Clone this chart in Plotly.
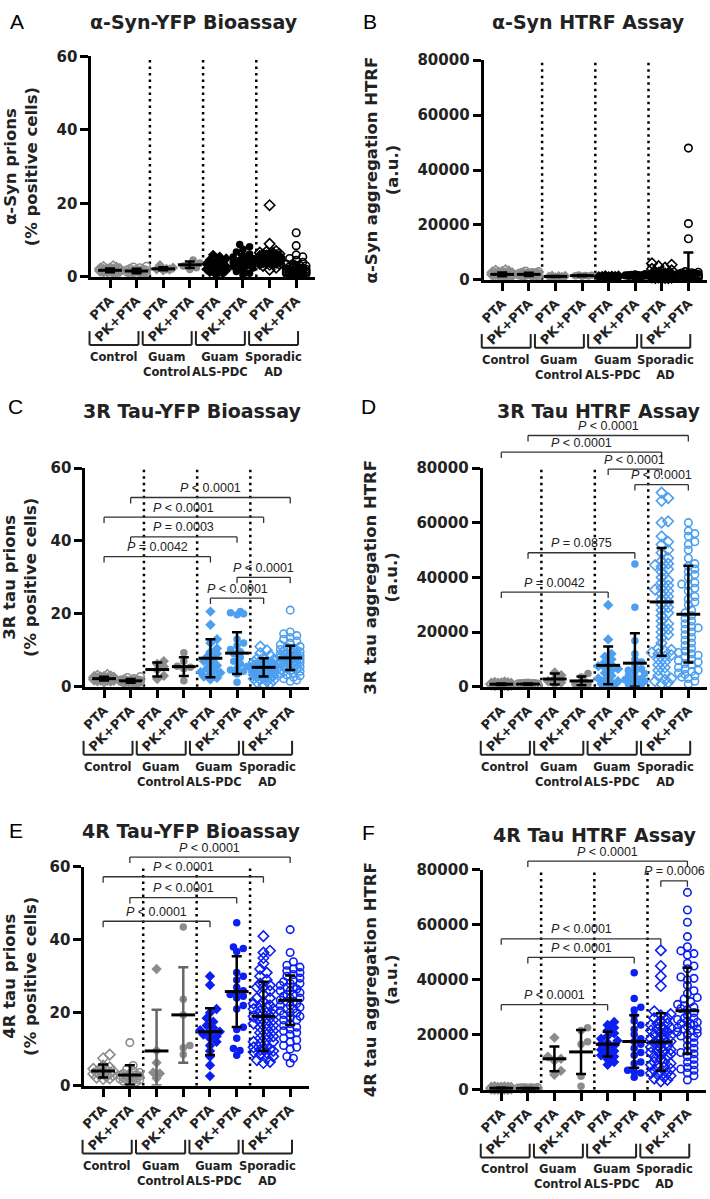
import numpy as np
import plotly.graph_objects as go

# ======================= DATA =======================
CATEGORY_LABELS = ["PTA", "PK+PTA"] * 4
GROUP_LABELS = ["Control", "Guam<br>Control", "Guam<br>ALS-PDC", "Sporadic<br>AD"]

# ---- Panel A: alpha-Syn-YFP bioassay (% positive cells)
A_control_pta = [1.2, 1.4, 1.5, 1.6, 1.7, 1.8, 1.8, 1.9, 2.0, 2.0, 2.1, 2.2, 2.3, 2.5, 2.7, 2.9, 1.0, 1.6]
A_control_pk = [0.8, 1.0, 1.1, 1.2, 1.3, 1.4, 1.5, 1.5, 1.6, 1.7, 1.8, 1.9, 2.0, 2.1, 2.3, 2.5, 2.7, 2.9, 1.2, 1.0]
A_guamctrl_pta = [1.8, 2.0, 2.1, 2.2, 2.5, 3.2]
A_guamctrl_pk = [2.0, 2.5, 3.0, 3.4, 3.8, 4.6]
A_als_pta = [0.5, 1.0, 1.3, 1.5, 1.8, 2.0, 2.1, 2.3, 2.5, 2.6, 2.8, 3.0, 3.2, 3.5, 3.8, 4.2, 4.6, 5.0, 5.5, 6.0]
A_als_pk = [0.5, 1.0, 1.5, 2.0, 2.4, 2.8, 3.0, 3.2, 3.5, 3.7, 4.0, 4.2, 4.5, 4.8, 5.0, 5.4, 5.8, 6.2, 6.8, 7.5, 8.2, 8.8]
A_sad_pta = [19.5, 9.0, 7.0, 6.8, 6.5, 6.3, 6.1, 6.0, 5.9, 5.8, 5.7, 5.6, 5.5, 5.4, 5.3, 5.2, 5.1, 5.0, 5.0, 4.9,
             4.8, 4.8, 4.7, 4.6, 4.5, 4.5, 4.4, 4.3, 4.2, 4.1, 4.0, 3.9, 3.8, 3.7, 3.5, 3.3, 3.0, 2.5, 2.0, 5.5,
             5.2, 4.6, 4.2, 6.6, 3.6, 5.3]
A_sad_pk = [12.0, 8.5, 6.0, 5.5, 5.0, 4.5, 4.0, 3.6, 3.2, 3.0, 2.8, 2.6, 2.4, 2.2, 2.0, 2.0, 1.9, 1.8, 1.7, 1.6,
            1.5, 1.5, 1.4, 1.3, 1.2, 1.2, 1.1, 1.0, 1.0, 0.9, 0.8, 0.8, 0.7, 0.6, 0.5, 1.8, 2.2, 1.4, 1.6, 2.5,
            3.5, 0.9, 1.3, 2.1, 1.1]
A_mean = [1.8, 1.6, 2.2, 3.3, 2.5, 3.8, 5.0, 2.0]
A_sd = [0.5, 0.6, 0.4, 0.9, 1.4, 2.1, 2.0, 2.0]

# ---- Panel B: alpha-Syn HTRF (a.u.)
B_control_pta = [800, 1200, 1500, 1700, 1900, 2000, 2100, 2200, 2400, 2600, 2800, 3000, 3300, 3500, 1600, 2300, 1000, 2700]
B_control_pk = [1000, 1300, 1500, 1700, 1800, 2000, 2100, 2200, 2300, 2500, 2600, 2800, 3000, 3200, 1900, 2400, 1600, 2700, 2100, 1400]
B_guamctrl_pta = [900, 1100, 1200, 1300, 1400, 1500]
B_guamctrl_pk = [1300, 1400, 1500, 1600, 1700, 1800]
B_als_pta = [800, 900, 1000, 1100, 1150, 1200, 1250, 1300, 1350, 1400, 1450, 1500, 1600, 1700, 1000, 1200, 1300, 1100, 950, 1250]
B_als_pk = [1000, 1200, 1300, 1400, 1500, 1600, 1700, 1800, 1900, 2000, 2100, 1500, 1700, 1400, 1600, 1800, 1300, 1900, 1550, 1650, 2200]
B_sad_pta = [6000, 5500, 5000, 4500, 4000, 3500, 3000, 2800, 2500, 2300, 2100, 2000, 1900, 1800, 1700, 1600, 1500, 1400,
             1300, 1200, 1100, 1000, 900, 800, 700, 600, 500, 1500, 1800, 2200, 1300, 1000, 1600, 1200, 2600, 900, 1100,
             1400, 700, 1900]
B_sad_pk = [48000, 20500, 15000, 3000, 2800, 2600, 2400, 2200, 2000, 1900, 1800, 1700, 1600, 1500, 1400, 1300, 1200,
            1100, 1000, 900, 800, 700, 600, 500, 400, 1500, 1800, 2100, 1300, 1000, 1600, 1200, 900, 1100, 1400, 700,
            1900, 2500, 800, 600]
B_mean = [2000, 2000, 1250, 1550, 1200, 1650, 1800, 3000]
B_sd = [700, 600, 200, 200, 250, 300, 1100, 7000]

# ---- Panel C: 3R tau-YFP bioassay (% positive cells)
C_control_pta = [1.5, 1.7, 1.8, 1.9, 2.0, 2.1, 2.2, 2.3, 2.4, 2.5, 2.6, 2.8, 3.0, 3.2, 2.0, 2.2, 1.9, 2.6]
C_control_pk = [0.9, 1.0, 1.1, 1.2, 1.3, 1.4, 1.5, 1.6, 1.7, 1.8, 1.9, 2.0, 2.2, 2.5, 2.8, 1.4, 1.6, 1.3, 1.7, 1.5]
C_guamctrl_pta = [7.0, 6.2, 5.5, 4.6, 3.0, 2.1]
C_guamctrl_pk = [9.3, 7.0, 5.6, 5.3, 4.9, 1.6]
C_als_pta = [20.6, 17.0, 13.0, 12.0, 10.5, 9.5, 9.0, 8.2, 7.6, 7.0, 6.3, 5.8, 5.0, 4.4, 3.8, 3.3, 2.8, 2.4, 2.0, 4.0]
C_als_pk = [20.6, 20.3, 20.0, 19.7, 13.0, 12.0, 11.2, 10.2, 9.6, 9.0, 8.0, 7.0, 6.2, 5.5, 5.0, 4.6, 4.2, 3.5, 1.2]
C_sad_pta = [11.0, 10.0, 9.2, 8.6, 8.0, 7.6, 7.3, 7.0, 6.8, 6.6, 6.4, 6.2, 6.0, 5.9, 5.8, 5.7, 5.6, 5.5, 5.4, 5.3,
             5.2, 5.1, 5.0, 4.9, 4.8, 4.7, 4.6, 4.5, 4.4, 4.3, 4.2, 4.1, 4.0, 3.9, 3.8, 3.7, 3.6, 3.5, 3.4, 3.3,
             3.2, 3.0, 2.8, 2.6, 2.4, 2.2, 2.0, 1.8, 1.5, 1.2, 0.9, 0.6, 5.0, 5.5, 4.5, 6.0, 4.0, 3.0, 7.0, 5.2]
C_sad_pk = [21.0, 15.0, 14.5, 14.0, 13.5, 13.0, 12.5, 12.0, 11.5, 11.0, 10.8, 10.5, 10.2, 10.0, 9.8, 9.6, 9.4, 9.2,
            9.0, 8.8, 8.6, 8.4, 8.2, 8.0, 7.8, 7.6, 7.4, 7.2, 7.0, 6.8, 6.6, 6.4, 6.2, 6.0, 5.8, 5.6, 5.4, 5.2, 5.0,
            4.8, 4.6, 4.4, 4.2, 4.0, 3.8, 3.5, 3.2, 3.0, 2.6, 2.2, 1.8, 1.5, 8.0, 7.5, 8.5, 9.0, 7.0, 6.5, 10.0, 7.8]
C_mean = [2.2, 1.6, 4.7, 5.5, 7.8, 9.2, 5.3, 7.9]
C_sd = [0.5, 0.5, 1.9, 2.6, 5.2, 5.7, 2.5, 3.3]
C_comp_pairs = [(1, 7), (0, 6), (1, 5), (0, 4), (5, 7), (4, 6)]
C_comp_heights = [51.9, 46.5, 41.1, 35.7, 30.0, 24.3]
C_comp_labels = ["< 0.0001", "< 0.0001", "= 0.0003", "= 0.0042", "< 0.0001", "< 0.0001"]

# ---- Panel D: 3R tau HTRF (a.u.)
D_control_pta = [400, 500, 600, 700, 800, 850, 900, 950, 1000, 1050, 1100, 1200, 1300, 1500, 900, 800, 1000, 700]
D_control_pk = [500, 600, 700, 750, 800, 850, 900, 950, 1000, 1050, 1100, 1150, 1200, 1300, 900, 800, 1000, 950, 850, 1100]
D_guamctrl_pta = [5200, 4200, 3000, 2000, 1500, 1000]
D_guamctrl_pk = [4800, 3500, 1800, 1200, 900, 600]
D_als_pta = [29900, 17300, 12000, 11000, 10000, 9000, 8000, 7500, 7000, 6500, 6000, 5000, 4000, 3000, 2500, 2000,
             1500, 1000, 800, 500]
D_als_pk = [44900, 29100, 16800, 12000, 10000, 9000, 7500, 6500, 5500, 4800, 4000, 3500, 3000, 2500, 2000, 1500,
            1000, 800, 500, 6000, 2200]
D_sad_pta = [71000, 69000, 68000, 60500, 60000, 55000, 53000, 52000, 50000, 49000, 47000, 46000, 45000, 44000, 43000,
             42000, 40000, 39000, 38000, 37000, 36000, 35000, 34000, 33000, 32000, 31000, 30000, 29000, 28000, 27000,
             26000, 24000, 23000, 22000, 21000, 20000, 19000, 18000, 16000, 14000, 13000, 12500, 12000, 11500, 11000,
             10000, 9000, 8000, 7000, 6000, 5000, 4000, 3000, 2000, 1500, 1000, 2500, 13500, 44500, 35500]
D_sad_pk = [60000, 57000, 56000, 55000, 53000, 52000, 50000, 47000, 45000, 44000, 43000, 42000, 41000, 40000, 38000,
            37000, 36000, 35000, 33000, 32000, 31000, 30000, 28000, 27000, 26000, 25000, 24000, 23000, 22000, 21000,
            20000, 19000, 18000, 17000, 16000, 15000, 14000, 13000, 12000, 11500, 11000, 10000, 9500, 9000, 8000,
            7000, 6500, 6000, 5000, 4500, 4000, 3000, 2000, 1000, 12500, 8500, 37500, 21500, 5500, 3500]
D_mean = [900, 950, 2800, 2100, 7800, 8600, 31000, 26500]
D_sd = [300, 250, 2000, 1600, 6900, 10900, 19700, 17700]
D_comp_pairs = [(1, 7), (0, 6), (4, 6), (5, 7), (1, 5), (0, 4)]
D_comp_heights = [91900, 85800, 79600, 73900, 49000, 34600]
D_comp_labels = ["< 0.0001", "< 0.0001", "< 0.0001", "< 0.0001", "= 0.0875", "= 0.0042"]

# ---- Panel E: 4R tau-YFP bioassay (% positive cells)
E_control_pta = [8.5, 7.5, 5.5, 5.0, 4.6, 4.3, 4.0, 3.8, 3.5, 3.2, 3.0, 2.8, 2.5, 2.2, 1.8, 4.2, 3.6, 2.0]
E_control_pk = [11.8, 5.5, 4.5, 4.0, 3.6, 3.3, 3.0, 2.8, 2.6, 2.4, 2.2, 2.0, 1.8, 1.6, 1.4, 1.2, 1.0, 0.8, 3.2, 2.7, 2.1, 1.5]
E_guamctrl_pta = [32.0, 9.6, 6.3, 3.6, 3.3, 2.0]
E_guamctrl_pk = [43.5, 23.7, 19.4, 11.0, 10.4, 8.5]
E_als_pta = [30.0, 27.6, 21.0, 20.0, 18.5, 17.5, 16.5, 15.8, 15.2, 14.8, 14.4, 14.0, 13.5, 13.0, 12.0, 11.0, 9.5, 8.0, 5.6, 2.6]
E_als_pk = [44.7, 38.0, 37.6, 36.8, 31.0, 30.0, 29.0, 27.0, 26.0, 25.5, 25.0, 24.5, 24.0, 22.0, 21.0, 16.0, 15.4,
            13.0, 10.2, 9.6, 8.3]
E_sad_pta = [41.0, 37.0, 36.5, 35.0, 33.5, 32.0, 31.0, 30.0, 29.0, 28.0, 27.5, 27.0, 26.0, 25.0, 24.0, 23.0, 22.5,
             22.0, 21.5, 21.0, 20.5, 20.0, 19.5, 19.0, 18.5, 18.0, 17.5, 17.0, 16.5, 16.0, 15.5, 15.0, 14.5, 14.0,
             13.5, 13.0, 12.5, 12.0, 11.5, 11.0, 10.5, 10.0, 9.8, 9.5, 9.2, 9.0, 8.5, 8.0, 7.5, 7.0, 6.5, 6.2, 21.0,
             19.0, 24.0, 17.0, 27.0, 10.0, 12.0, 22.0]
E_sad_pk = [42.8, 36.5, 34.0, 33.0, 32.5, 32.0, 31.5, 31.0, 30.0, 29.5, 29.0, 28.5, 28.0, 27.5, 27.0, 26.5, 26.0,
            25.5, 25.0, 24.5, 24.0, 23.5, 23.0, 22.5, 22.0, 21.5, 21.0, 20.5, 20.0, 19.5, 19.0, 18.5, 18.0, 17.0,
            16.0, 15.5, 15.0, 14.0, 13.0, 12.0, 11.0, 10.5, 10.0, 8.0, 7.5, 6.2, 26.0, 27.0, 25.0, 24.0, 22.0, 23.0,
            21.0, 28.0, 30.5, 20.0, 18.0, 16.5, 14.5, 12.5]
E_mean = [4.0, 2.9, 9.5, 19.4, 14.8, 25.8, 19.0, 23.4]
E_sd = [1.8, 2.7, 11.3, 13.1, 6.4, 9.7, 9.5, 6.8]
E_comp_pairs = [(1, 7), (0, 6), (1, 5), (0, 4)]
E_comp_heights = [62.7, 57.3, 51.6, 45.1]
E_comp_labels = ["< 0.0001", "< 0.0001", "< 0.0001", "< 0.0001"]

# ---- Panel F: 4R tau HTRF (a.u.)
F_control_pta = [200, 300, 350, 400, 450, 500, 550, 600, 650, 700, 800, 400, 500, 600, 300, 450, 550, 350]
F_control_pk = [200, 250, 300, 350, 400, 450, 500, 550, 600, 650, 700, 400, 500, 300, 450, 350, 550, 600, 250, 500]
F_guamctrl_pta = [18900, 12000, 11200, 10500, 6800, 5400]
F_guamctrl_pk = [22500, 21500, 17400, 16500, 4800, 1200]
F_als_pta = [24600, 23500, 22500, 21500, 20500, 19500, 18500, 17800, 17000, 16500, 16000, 15200, 14500, 14000,
             13200, 12500, 12000, 11000, 10000, 9000]
F_als_pk = [42500, 33200, 30000, 29000, 27000, 25000, 23500, 22000, 20000, 18500, 17500, 16500, 15000, 13500, 12500,
            10000, 9500, 7000, 6500, 6000, 4500]
F_sad_pta = [50700, 45000, 41300, 37700, 28500, 27500, 27000, 26000, 25000, 24000, 23500, 23000, 22500, 22000, 21500,
             21000, 20500, 20000, 19500, 19000, 18500, 18000, 17500, 17000, 16500, 16000, 15500, 15000, 14500, 14000,
             13500, 13000, 12500, 12000, 11000, 10000, 9500, 9000, 8500, 8000, 7500, 7000, 6500, 6000, 5500, 5000,
             4500, 4000, 3500, 3000, 20000, 18000, 22000, 16000, 14000, 12000, 24000, 10000, 26000, 6000]
F_sad_pk = [71800, 65400, 60900, 55700, 52000, 50500, 49500, 49000, 46000, 45000, 44000, 41000, 40500, 40000, 38000,
            36000, 35000, 33000, 32000, 31000, 30000, 29500, 29000, 28000, 27000, 26000, 25500, 25000, 24500, 24000,
            23500, 23000, 22500, 22000, 21500, 21000, 20500, 20000, 19000, 18000, 17000, 16000, 15000, 14000, 13000,
            12000, 11000, 10000, 9000, 8000, 7500, 7000, 6000, 5000, 3500, 26000, 24000, 22000, 19500, 33500, 30500, 13500]
F_mean = [500, 450, 11200, 13700, 16500, 17500, 17300, 28700]
F_sd = [150, 150, 4500, 8000, 4500, 9600, 10500, 15700]
F_comp_pairs = [(1, 7), (6, 7), (0, 6), (1, 5), (0, 4)]
F_comp_heights = [83200, 76000, 54900, 48100, 30900]
F_comp_labels = ["< 0.0001", "= 0.0006", "< 0.0001", "< 0.0001", "< 0.0001"]

# ======================= LAYOUT / STYLE =======================
W, H = 710, 1199
XR = (-0.7, 7.7)
GREY = "#8c8c8c"
BLACK = "#000000"
LIGHTBLUE = "#4d9ff0"
BLUE = "#0b1ff2"
FONT = "DejaVu Sans"
PFONT = "Liberation Sans"

panels = [
    dict(letter="A", title="α-Syn-YFP Bioassay", ytitle="α-Syn prions<br>(% positive cells)",
         values=[A_control_pta, A_control_pk, A_guamctrl_pta, A_guamctrl_pk, A_als_pta, A_als_pk, A_sad_pta, A_sad_pk],
         mean=A_mean, sd=A_sd, ymax=60, dtick=20, color=BLACK, comps=([], [], []),
         px=(87, 312), py=(48, 272), tpos=(190, 13), lpos=(12, 13), gerr=BLACK),
    dict(letter="B", title="α-Syn HTRF Assay", ytitle="α-Syn aggregation HTRF<br>(a.u.)",
         values=[B_control_pta, B_control_pk, B_guamctrl_pta, B_guamctrl_pk, B_als_pta, B_als_pk, B_sad_pta, B_sad_pk],
         mean=B_mean, sd=B_sd, ymax=80000, dtick=20000, color=BLACK, comps=([], [], []),
         px=(482, 707), py=(52, 275), tpos=(588, 13), lpos=(368, 13), gerr=BLACK),
    dict(letter="C", title="3R Tau-YFP Bioassay", ytitle="3R tau prions<br>(% positive cells)",
         values=[C_control_pta, C_control_pk, C_guamctrl_pta, C_guamctrl_pk, C_als_pta, C_als_pk, C_sad_pta, C_sad_pk],
         mean=C_mean, sd=C_sd, ymax=60, dtick=20, color=LIGHTBLUE,
         comps=(C_comp_pairs, C_comp_heights, C_comp_labels),
         px=(81, 306), py=(466, 688), tpos=(188, 408), lpos=(11, 404), gerr=BLACK),
    dict(letter="D", title="3R Tau HTRF Assay", ytitle="3R tau aggregation HTRF<br>(a.u.)",
         values=[D_control_pta, D_control_pk, D_guamctrl_pta, D_guamctrl_pk, D_als_pta, D_als_pk, D_sad_pta, D_sad_pk],
         mean=D_mean, sd=D_sd, ymax=80000, dtick=20000, color=LIGHTBLUE,
         comps=(D_comp_pairs, D_comp_heights, D_comp_labels),
         px=(481, 707), py=(466, 688), tpos=(598, 408), lpos=(366, 404), gerr=BLACK),
    dict(letter="E", title="4R Tau-YFP Bioassay", ytitle="4R tau prions<br>(% positive cells)",
         values=[E_control_pta, E_control_pk, E_guamctrl_pta, E_guamctrl_pk, E_als_pta, E_als_pk, E_sad_pta, E_sad_pk],
         mean=E_mean, sd=E_sd, ymax=60, dtick=20, color=BLUE,
         comps=(E_comp_pairs, E_comp_heights, E_comp_labels),
         px=(80, 306), py=(871, 1093), tpos=(187, 835), lpos=(11, 834), gerr="#666666"),
    dict(letter="F", title="4R Tau HTRF Assay", ytitle="4R tau aggregation HTRF<br>(a.u.)",
         values=[F_control_pta, F_control_pk, F_guamctrl_pta, F_guamctrl_pk, F_als_pta, F_als_pk, F_sad_pta, F_sad_pk],
         mean=F_mean, sd=F_sd, ymax=80000, dtick=20000, color=BLUE,
         comps=(F_comp_pairs, F_comp_heights, F_comp_labels),
         px=(481, 706), py=(874, 1097), tpos=(594, 839), lpos=(366, 836), gerr=BLACK),
]

SYMBOLS = ["diamond-open", "circle-open", "diamond", "circle", "diamond", "circle", "diamond-open", "circle-open"]


def swarm_offsets(vals, px_per_y, px_per_cat, d=6.0, maxoff=0.38):
    """Deterministic beeswarm: horizontal offsets (category units) so markers don't overlap."""
    vals = np.asarray(vals, dtype=float)
    order = np.argsort(vals, kind="stable")
    step = d * 0.55
    nmax = max(1, int(maxoff * px_per_cat / step))
    cands = [0.0]
    for k in range(1, nmax + 1):
        cands += [k * step, -k * step]
    placed = []
    out = np.zeros(len(vals))
    for idx in order:
        yy = vals[idx] * px_per_y
        best, bestd = 0.0, -1.0
        for c in cands:
            md = min((np.hypot(c - px, yy - py) for px, py in placed), default=1e9)
            if md >= d * 0.9:
                best = c
                break
            if md > bestd:
                bestd, best = md, c
        placed.append((best, yy))
        out[idx] = best / px_per_cat
    return out


fig = go.Figure()
layout = dict(width=W, height=H, margin=dict(l=0, r=0, t=0, b=0), showlegend=False,
              paper_bgcolor="white", plot_bgcolor="white")
shapes, annotations = [], []


def xdom(c):
    return (c - XR[0]) / (XR[1] - XR[0])


for i, p in enumerate(panels, start=1):
    sfx = "" if i == 1 else str(i)
    xr, yr = "x" + sfx, "y" + sfx
    x0, x1 = p["px"]
    yt, yb = p["py"]
    pw, ph = x1 - x0, yb - yt
    ymax = p["ymax"]
    px_per_y = ph / ymax
    px_per_cat = pw / (XR[1] - XR[0])

    layout["xaxis" + sfx] = dict(
        domain=[x0 / W, x1 / W], anchor=yr, range=list(XR), showgrid=False, zeroline=False,
        showline=True, linecolor="black", linewidth=3, ticks="outside", ticklen=8, tickwidth=3,
        tickcolor="black", tickvals=list(range(8)), ticktext=CATEGORY_LABELS, tickangle=-45,
        tickfont=dict(family=FONT, size=13, color="#222", weight="bold"), fixedrange=True)
    layout["yaxis" + sfx] = dict(
        domain=[1 - yb / H, 1 - yt / H], anchor=xr, range=[0, ymax], showgrid=False, zeroline=False,
        showline=True, linecolor="black", linewidth=3, ticks="outside", ticklen=8, tickwidth=3,
        tickcolor="black", tickvals=list(range(0, ymax + 1, p["dtick"])), tickformat="d",
        tickfont=dict(family=FONT, size=15, color="#222", weight="bold"),
        title=dict(text=p["ytitle"], font=dict(family=FONT, size=16.5, color="#222", weight="bold")),
        fixedrange=True)

    # data points
    for g, vals in enumerate(p["values"]):
        col = GREY if g < 4 else p["color"]
        offs = swarm_offsets(vals, px_per_y, px_per_cat)
        is_open = SYMBOLS[g].endswith("open")
        fig.add_trace(go.Scatter(
            x=g + offs, y=vals, mode="markers", xaxis=xr, yaxis=yr, cliponaxis=False, hoverinfo="skip",
            marker=dict(symbol=SYMBOLS[g], size=7.5 if "circle" in SYMBOLS[g] else 8, color=col,
                        line=dict(color=col, width=1.6 if is_open else 0))))
    # mean +/- SD
    for g in range(8):
        m, s = p["mean"][g], p["sd"][g]
        ecol = p["gerr"] if 2 <= g <= 3 else BLACK
        fig.add_trace(go.Scatter(
            x=[g], y=[m], mode="markers", xaxis=xr, yaxis=yr, cliponaxis=False, hoverinfo="skip",
            marker=dict(symbol="line-ew", size=17, color="black", line=dict(color="black", width=3)),
            error_y=dict(type="data", symmetric=False, array=[s], arrayminus=[min(s, m)],
                         color=ecol, thickness=2.5, width=5)))

    # dotted group separators
    for c in (1.5, 3.5, 5.5):
        shapes.append(dict(type="line", xref=xr, yref=yr + " domain", x0=c, x1=c, y0=0, y1=1,
                           line=dict(color="black", width=2.5, dash="2.5px,4px"), layer="below"))

    # significance brackets
    pairs, heights, labels = p["comps"]
    tick = 6.0 / ph
    for (a, b), hgt, lab in zip(pairs, heights, labels):
        yd = hgt / ymax
        for (xa, xb, ya, yb2) in ((a, b, yd, yd), (a, a, yd, yd - tick), (b, b, yd, yd - tick)):
            shapes.append(dict(type="line", xref=xr, yref=yr + " domain", x0=xa, x1=xb, y0=ya, y1=yb2,
                               line=dict(color="#333", width=1.3)))
        annotations.append(dict(xref=xr, yref=yr + " domain", x=(a + b) / 2, y=yd + 0.5 / ph,
                                xanchor="center", yanchor="bottom", showarrow=False,
                                text="<i>P</i> " + lab, font=dict(family=PFONT, size=12.5, color="#222")))

    # group brackets under the axis
    for gi, lab in enumerate(GROUP_LABELS):
        ca, cb = 2 * gi - 0.77, 2 * gi + 1.07
        ytop, ybot = -55.0 / ph, -69.0 / ph
        for (xa, xb, ya, yb2) in ((ca, cb, ybot, ybot), (ca, ca, ybot, ytop), (cb, cb, ybot, ytop)):
            shapes.append(dict(type="line", xref=xr + " domain", yref=yr + " domain",
                               x0=xdom(xa), x1=xdom(xb), y0=ya, y1=yb2, line=dict(color="#222", width=2)))
        annotations.append(dict(xref=xr + " domain", yref=yr + " domain", x=xdom((ca + cb) / 2),
                                y=-72.0 / ph, xanchor="center", yanchor="top", showarrow=False,
                                text="<b>" + lab + "</b>",
                                font=dict(family=FONT, size=11.5, color="#222")))

    # panel title and letter
    annotations.append(dict(xref="paper", yref="paper", x=p["tpos"][0] / W, y=1 - p["tpos"][1] / H,
                            xanchor="center", yanchor="middle", showarrow=False,
                            text="<b>" + p["title"] + "</b>", font=dict(family=FONT, size=19, color="#222")))
    annotations.append(dict(xref="paper", yref="paper", x=p["lpos"][0] / W, y=1 - p["lpos"][1] / H,
                            xanchor="center", yanchor="middle", showarrow=False,
                            text=p["letter"], font=dict(family=PFONT, size=21, color="black")))

layout["shapes"] = shapes
layout["annotations"] = annotations
fig.update_layout(**layout)
fig.write_html("out.html", config={"displayModeBar": False},
               post_script="document.body.style.margin='0';document.body.style.overflow='hidden';")
